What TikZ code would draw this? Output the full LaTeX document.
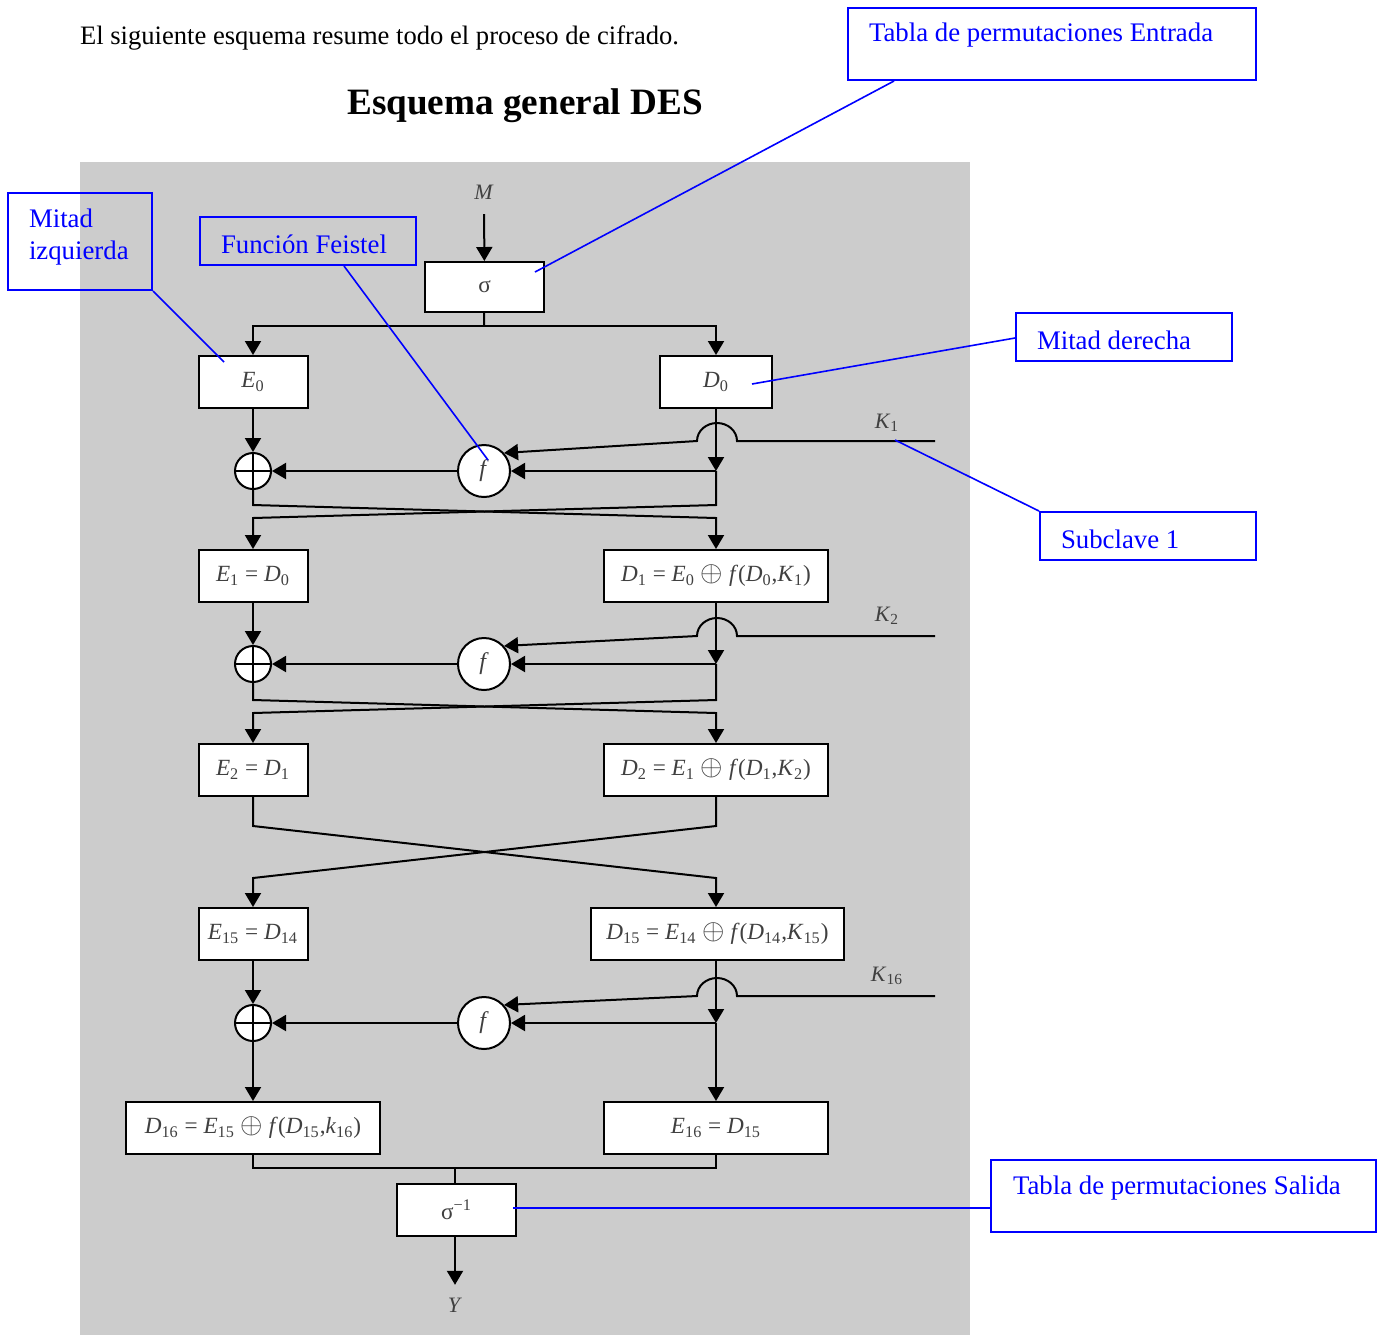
\documentclass[tikz,border=0pt]{standalone}
\usepackage{fontspec}
\setmainfont{Liberation Serif}
\usetikzlibrary{arrows.meta}

% variable with subscript, e.g. E_0
\newcommand\vr[2]{\textit{#1}\textsubscript{#2}}
% larger exclusive-or sign for the box formulas
\newcommand\xo{{\fontsize{13.5}{14}\selectfont$\oplus$}}

\definecolor{panelgray}{HTML}{CCCCCC}
\definecolor{notebl}{HTML}{0000FF}

\begin{document}
\begin{tikzpicture}[x=0.5pt,y=-0.5pt,line width=1pt,
  arr/.style={-{Triangle[width=8pt,length=7pt]}},
  blk/.style={draw,fill=white,line width=1pt,minimum height=26pt,inner sep=0pt,
    font=\fontsize{11.6}{13}\selectfont,text=black!75},
  xorn/.style={circle,draw,fill=white,minimum size=18pt,inner sep=0pt,
    path picture={\draw (path picture bounding box.north) -- (path picture bounding box.south)
      (path picture bounding box.west) -- (path picture bounding box.east);}},
  fn/.style={circle,draw,fill=white,minimum size=26pt,inner sep=0pt,
    font=\fontsize{12}{14}\selectfont,text=black!75},
  lab/.style={inner sep=1pt,font=\fontsize{11}{13}\selectfont,text=black!75},
  notebox/.style={draw=notebl,line width=1pt,inner sep=0pt},
  notetxt/.style={anchor=west,inner sep=0pt,text=notebl,font=\fontsize{13.4}{16}\selectfont,align=left},
  noteln/.style={draw=notebl,line width=0.8pt}]

\useasboundingbox (0,0) rectangle (1377,1335);
\fill[white] (0,0) rectangle (1377,1335);
\fill[panelgray] (80,162) rectangle (970,1335);

% heading texts
\node[anchor=west,inner sep=0pt,font=\fontsize{13.3}{15}\selectfont] (intro) at (79,38)
  {El siguiente esquema resume todo el proceso de cifrado.};
\node[inner sep=0pt,font=\fontsize{18.6}{22}\selectfont\bfseries] (title) at (525,106)
  {Esquema general DES};

% boxes
\node[lab] (M) at (484,192) {\textit{M}};
\node[blk,minimum width=59.5pt,minimum height=25pt] (sig) at (484.5,287) {σ};
\node[blk,minimum width=54.5pt] (E0) at (253,382) {\vr{E}{0}};
\node[blk,minimum width=56pt] (D0) at (716,382) {\vr{D}{0}};
\node[blk,minimum width=54.5pt] (E1) at (253,576) {\vr{E}{1} = \vr{D}{0}};
\node[blk,minimum width=112pt] (D1) at (716,576)
  {\vr{D}{1} = \vr{E}{0} \xo{} \textit{f\/}(\vr{D}{0},\vr{K}{1})};
\node[blk,minimum width=54.5pt] (E2) at (253,770) {\vr{E}{2} = \vr{D}{1}};
\node[blk,minimum width=112pt] (D2) at (716,770)
  {\vr{D}{2} = \vr{E}{1} \xo{} \textit{f\/}(\vr{D}{1},\vr{K}{2})};
\node[blk,minimum width=54.5pt] (E15) at (253,934) {\vr{E}{15} = \vr{D}{14}};
\node[blk,minimum width=126.5pt] (D15) at (717.5,934)
  {\vr{D}{15} = \vr{E}{14} \xo{} \textit{f\/}(\vr{D}{14},\vr{K}{15})};
\node[blk,minimum width=127pt] (D16) at (253,1128)
  {\vr{D}{16} = \vr{E}{15} \xo{} \textit{f\/}(\vr{D}{15},\vr{k}{16})};
\node[blk,minimum width=112pt] (E16) at (716,1128) {\vr{E}{16} = \vr{D}{15}};
\node[blk,minimum width=59.5pt] (sinv) at (456.5,1210) {σ\textsuperscript{−1}};
\node[lab] (Y) at (455,1305) {\textit{Y}};

% initial permutation and split
\coordinate (s0) at (484,326);
\draw[arr,shorten <=6pt] (M) -- (sig);
\draw (sig) -- (s0);
\draw[arr] (s0) -| (E0);
\draw[arr] (s0) -| (D0);

% round 1
\node[xorn] (x1) at (253,471) {};
\node[fn] (f1) at (484,471) {\textit{f}};
\coordinate (b1) at (716,471);
\node[lab] (k1) at (887,423) {\vr{K}{1}};
\coordinate (kr1) at (935,441);
\coordinate (hr1) at (737,441);
\coordinate (hl1) at (697,441);
\coordinate (cl1) at (253,505); \coordinate (cr1) at (716,505);
\coordinate (dl1) at (253,518); \coordinate (dr1) at (716,518);
\draw[arr] (E0) -- (x1);
\draw[arr] (D0) -- (b1);
\draw[arr] (b1) -- (f1);
\draw[arr] (f1) -- (x1);
\draw[arr] (kr1) -- (hr1) .. controls (737,431) and (728,423) .. (717,423)
  .. controls (706,423) and (697,431) .. (hl1) -- (f1.42);
\draw[arr] (x1) -- (cl1) -- (dr1) -- (D1);
\draw[arr] (b1) -- (cr1) -- (dl1) -- (E1);

% round 2
\node[xorn] (x2) at (253,664) {};
\node[fn] (f2) at (484,664) {\textit{f}};
\coordinate (b2) at (716,664);
\node[lab] (k2) at (887,616) {\vr{K}{2}};
\coordinate (kr2) at (935,636);
\coordinate (hr2) at (737,636);
\coordinate (hl2) at (697,636);
\coordinate (cl2) at (253,700); \coordinate (cr2) at (716,700);
\coordinate (dl2) at (253,713); \coordinate (dr2) at (716,713);
\draw[arr] (E1) -- (x2);
\draw[arr] (D1) -- (b2);
\draw[arr] (b2) -- (f2);
\draw[arr] (f2) -- (x2);
\draw[arr] (kr2) -- (hr2) .. controls (737,626) and (728,618) .. (717,618)
  .. controls (706,618) and (697,626) .. (hl2) -- (f2.42);
\draw[arr] (x2) -- (cl2) -- (dr2) -- (D2);
\draw[arr] (b2) -- (cr2) -- (dl2) -- (E2);

% rounds 3 to 15 folded into one exchange
\coordinate (gl) at (253,826); \coordinate (gr) at (716,826);
\coordinate (hl) at (253,878); \coordinate (hr) at (716,878);
\draw[arr] (E2) -- (gl) -- (hr) -- (D15.north -| hr);
\draw[arr] (D2) -- (gr) -- (hl) -- (E15);

% round 16
\node[xorn] (x16) at (253,1023) {};
\node[fn] (f16) at (484,1023) {\textit{f}};
\coordinate (b16) at (716,1023);
\node[lab] (k16) at (887,976) {\vr{K}{16}};
\coordinate (kr16) at (935,996);
\coordinate (hr16) at (737,996);
\coordinate (hl16) at (697,996);
\draw[arr] (E15) -- (x16);
\draw[arr] (D15.south -| b16) -- (b16);
\draw[arr] (b16) -- (f16);
\draw[arr] (f16) -- (x16);
\draw[arr] (kr16) -- (hr16) .. controls (737,986) and (728,978) .. (717,978)
  .. controls (706,978) and (697,986) .. (hl16) -- (f16.42);
\draw[arr] (x16) -- (D16);
\draw[arr] (b16) -- (E16);

% final permutation
\coordinate (j1) at (253,1168); \coordinate (j2) at (716,1168);
\coordinate (j0) at (455,1168);
\draw (D16) -- (j1) -- (j2) -- (E16);
\draw (j0) -- (sinv.north -| j0);
\draw[arr,shorten >=5pt] (sinv.south -| j0) -- (Y);

% annotations
\node[notebox,minimum width=204pt,minimum height=36pt] (tpe) at (1052,44) {};
\node[notetxt] (tpet) at (868,35) {Tabla de permutaciones Entrada};
\node[notebox,minimum width=72pt,minimum height=48.5pt] (mi) at (80,241.5) {};
\node[notetxt] (mit) at (28,237) {Mitad\\izquierda};
\node[notebox,minimum width=108pt,minimum height=24pt] (ff) at (308,241) {};
\node[notetxt] (fft) at (220,244) {Función Feistel};
\node[notebox,minimum width=108pt,minimum height=24pt] (md) at (1124,337) {};
\node[notetxt] (mdt) at (1036,340) {Mitad derecha};
\node[notebox,minimum width=108pt,minimum height=24pt] (sc) at (1148,536) {};
\node[notetxt] (sct) at (1060,539) {Subclave 1};
\node[notebox,minimum width=192.5pt,minimum height=36pt] (tps) at (1183.5,1196) {};
\node[notetxt] (tpst) at (1012,1188) {Tabla de permutaciones Salida};

\coordinate (pe) at (535,272);
\coordinate (pmi) at (224,362);
\coordinate (pff) at (488,460);
\coordinate (pmd) at (752,384);
\coordinate (psc) at (895,440);
\coordinate (pps) at (513,1208);
\draw[noteln] ([xshift=23.5pt]tpe.south west) -- (pe);
\draw[noteln] (mi.south east) -- (pmi);
\draw[noteln] ([xshift=72.5pt]ff.south west) -- (pff);
\draw[noteln] ([yshift=-0.5pt]md.west) -- (pmd);
\draw[noteln] (sc.north west) -- (psc);
\draw[noteln] ([yshift=-6pt]tps.west) -- (pps);
\end{tikzpicture}
\end{document}
